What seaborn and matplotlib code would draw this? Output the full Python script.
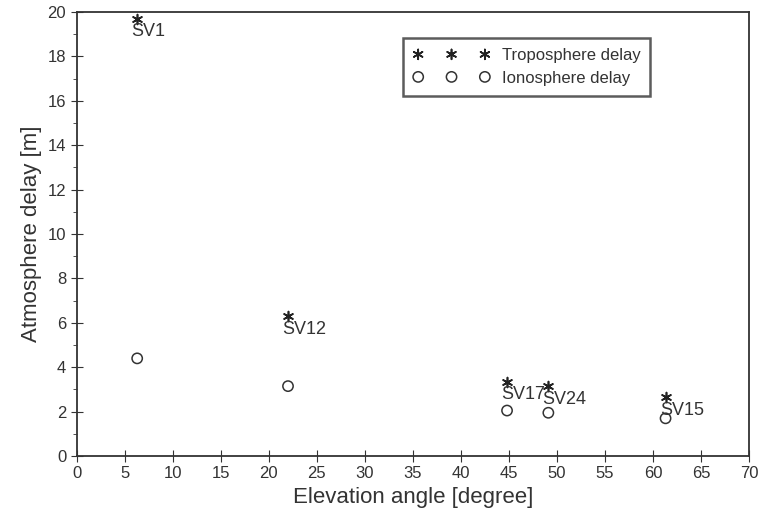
import matplotlib
matplotlib.use("Agg")
import matplotlib.pyplot as plt
import seaborn as sns
import pandas as pd
from matplotlib.ticker import MultipleLocator

sns.set_style("ticks")
plt.rcParams['font.family'] = ['Liberation Sans', 'DejaVu Sans']

# values
satellites = ["SV1", "SV12", "SV17", "SV24", "SV15"]
elevation = [6.3, 22.0, 44.8, 49.1, 61.3]
tropo_delay = [19.7, 6.3, 3.35, 3.15, 2.65]
iono_delay = [4.4, 3.15, 2.05, 1.95, 1.7]

df = pd.DataFrame({"sv": satellites, "elev": elevation,
                   "tropo": tropo_delay, "iono": iono_delay})

fig = plt.figure(figsize=(7.59, 5.23), dpi=100)
ax = fig.add_axes([0.101, 0.128, 0.886, 0.849])

sns.scatterplot(data=df, x="elev", y="tropo", ax=ax, marker=(6, 2, 0), s=50,
                color="#222222", linewidth=1.2, label="Troposphere delay")
sns.scatterplot(data=df, x="elev", y="iono", ax=ax, marker="o", s=55,
                facecolor="none", edgecolor="#333333", linewidth=1.1,
                label="Ionosphere delay")

# satellite names under each troposphere point
for _, r in df.iterrows():
    ax.text(r["elev"] - 0.6, r["tropo"] - 0.2, r["sv"], fontsize=13,
            color="#333333", ha="left", va="top")

ax.set_xlim(0, 70)
ax.set_ylim(0, 20)
ax.xaxis.set_major_locator(MultipleLocator(5))
ax.yaxis.set_major_locator(MultipleLocator(2))
ax.yaxis.set_minor_locator(MultipleLocator(1))
ax.tick_params(axis="both", which="major", direction="inout", length=8,
               labelsize=12, labelcolor="#333333", color="#333333")
ax.tick_params(axis="y", which="minor", direction="out", length=3, color="#333333")
for sp in ax.spines.values():
    sp.set_color("#333333")
    sp.set_linewidth(1.3)

ax.set_xlabel("Elevation angle [degree]", fontsize=16, color="#333333")
ax.set_ylabel("Atmosphere delay [m]", fontsize=16, color="#333333")

leg = ax.legend(loc="upper right", bbox_to_anchor=(0.853, 0.941), scatterpoints=3,
                scatteryoffsets=[0.5], fontsize=12, frameon=True, fancybox=False,
                edgecolor="#333333", borderpad=0.6, handlelength=4.6,
                handletextpad=0.7, labelspacing=0.45, borderaxespad=0)
leg.get_frame().set_linewidth(1.8)
for t in leg.get_texts():
    t.set_color("#333333")

fig.savefig("out.png", dpi=100)
